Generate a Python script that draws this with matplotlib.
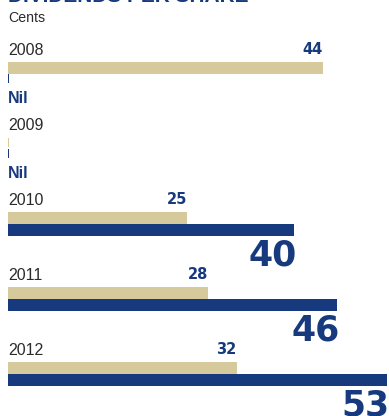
import matplotlib
matplotlib.use("Agg")
import matplotlib.pyplot as plt

plt.rcParams["font.family"] = ["Liberation Sans", "DejaVu Sans"]

# 数据（单位：分）
years = ["2008", "2009", "2010", "2011", "2012"]
interim = [44, 0, 25, 28, 32]   # 0 表示 Nil
final = [0, 0, 40, 46, 53]

TAN = "#D6C99B"
NAVY = "#173A7E"
GREY = "#2B2B2B"

W, H = 389, 416
fig = plt.figure(figsize=(W / 100, H / 100), dpi=100)
ax = fig.add_axes([0, 0, 1, 1])
ax.set_axis_off()

# x 轴用分值，y 轴用像素行
px = 7.15            # 每分对应像素
left_px = 8
ax.set_xlim(-left_px / px, (W - left_px) / px)
ax.set_ylim(H, 0)

base, step = 54.6, 75.1
stub = 0.2           # Nil 的细线宽度

# 标题在原图中只露出底部一点
ax.text(0, 1.5, "DIVIDENDS PER SHARE", color=NAVY, fontsize=15, fontweight="bold",
        ha="left", va="baseline")
ax.text(0, 22.3, "Cents", color=GREY, fontsize=10.2, ha="left", va="baseline")

for i, year in enumerate(years):
    b = base + i * step
    ax.text(0, b, year, color=GREY, fontsize=11.5, ha="left", va="baseline")

    v1, v2 = interim[i], final[i]
    if v1 > 0:
        ax.barh(b + 7, v1, height=12, left=0, align="edge", color=TAN)
        ax.text(v1, b - 1, str(v1), color=NAVY, fontsize=10.5, fontweight="bold",
                family="DejaVu Sans", ha="right", va="baseline")
    else:
        ax.barh(b + 8, stub, height=9, left=0, align="edge", color=TAN)

    if v2 > 0:
        ax.barh(b + 19, v2, height=12, left=0, align="edge", color=NAVY)
        ax.text(v2 + 3 / px, b + 61, str(v2), color=NAVY, fontsize=25,
                fontweight="bold", family="DejaVu Sans", ha="right", va="baseline")
    else:
        ax.barh(b + 19, stub, height=9, left=0, align="edge", color=NAVY)
        ax.text(0, b + 48, "Nil", color=NAVY, fontsize=11.5, fontweight="bold",
                ha="left", va="baseline")

fig.savefig("out.png", dpi=100)
plt.close(fig)
